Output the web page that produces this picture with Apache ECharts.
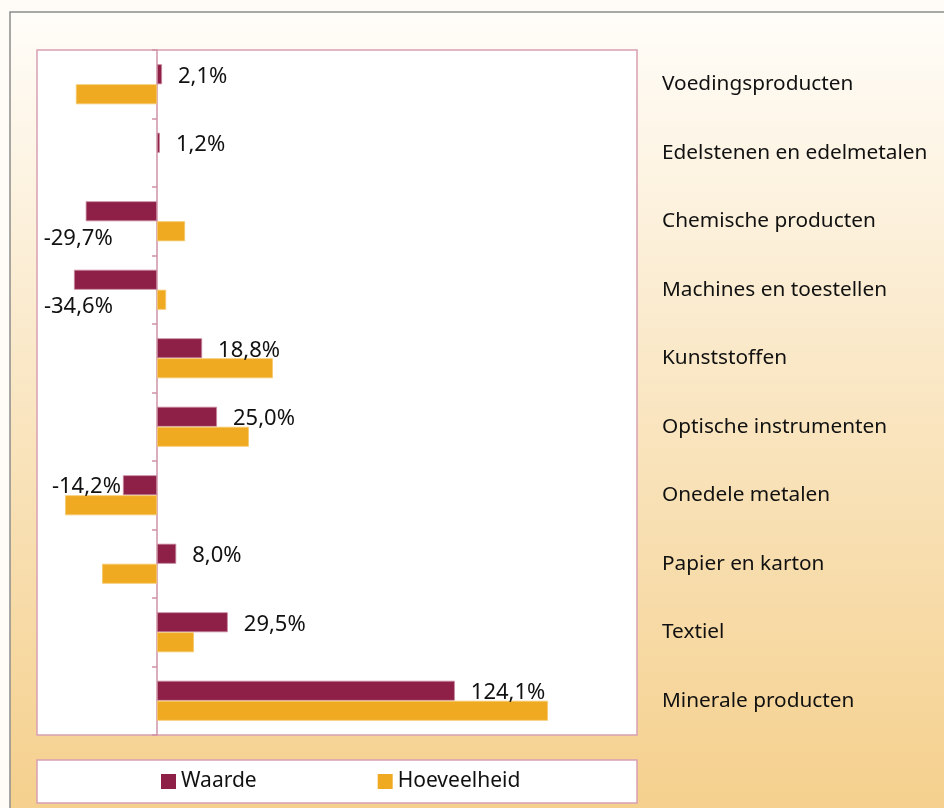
<!DOCTYPE html>
<html>
<head>
<meta charset="utf-8">
<script src="https://cdn.jsdelivr.net/npm/echarts@6/dist/echarts.min.js"></script>
<style>
html,body{margin:0;padding:0;background:#fffcf8;}
#c{width:944px;height:808px;}
</style>
</head>
<body>
<div id="c"></div>
<script>
const categories = ['Voedingsproducten','Edelstenen en edelmetalen','Chemische producten','Machines en toestellen','Kunststoffen','Optische instrumenten','Onedele metalen','Papier en karton','Textiel','Minerale producten'];
const waarde = [2.1, 1.2, -29.7, -34.6, 18.8, 25.0, -14.2, 8.0, 29.5, 124.1];
const hoeveelheid = [-33.8, null, 11.7, 3.8, 48.3, 38.3, -38.3, -22.9, 15.4, 162.9];
const seriesNames = ['Waarde', 'Hoeveelheid'];

const FONT = '"Noto Sans", sans-serif';
const fmt = v => v.toFixed(1).replace('.', ',') + '%';

const labelOffsets = { 2: [29, 27], 3: [41, 27] };
const waardeData = waarde.map((v, i) => {
  const item = { value: v };
  if (v < 0) {
    item.label = { position: 'left', distance: 2, offset: labelOffsets[i] || [0, 1] };
  }
  return item;
});

const chart = echarts.init(document.getElementById('c'), null, { renderer: 'canvas' });
chart.setOption({
  animation: false,
  graphic: [
    { type: 'rect', z: -10, silent: true,
      shape: { x: 10, y: 12, width: 940, height: 800 },
      style: {
        fill: new echarts.graphic.LinearGradient(0, 0, 0, 1, [
          { offset: 0, color: '#fffdf9' },
          { offset: 0.5, color: '#f9e5c0' },
          { offset: 1, color: '#f5d08d' }
        ]),
        stroke: '#8c8c8c', lineWidth: 1.5
      }
    },
    { type: 'rect', z: -5, silent: true,
      shape: { x: 37, y: 760, width: 600, height: 43 },
      style: { fill: '#ffffff', stroke: '#d8a0b2', lineWidth: 1.5 }
    }
  ],
  grid: { left: 37, top: 50, width: 600, height: 685, show: true, backgroundColor: '#ffffff', borderColor: '#d8a0b2', borderWidth: 1.5 },
  xAxis: { type: 'value', min: -50, max: 200, show: false },
  yAxis: [
    { type: 'category', data: categories, inverse: true,
      axisLine: { show: true, onZero: true, lineStyle: { color: '#cf93a7', width: 1.5 } },
      axisTick: { show: true, length: 5, lineStyle: { color: '#cf93a7', width: 1.5 } },
      axisLabel: { show: false }, splitLine: { show: false } },
    { type: 'category', data: categories, inverse: true, position: 'right',
      axisLine: { show: false, onZero: false }, axisTick: { show: false }, splitLine: { show: false },
      axisLabel: { show: true, margin: 25, color: '#111', fontFamily: FONT, fontSize: 20.8, align: 'left' } }
  ],
  legend: {
    data: seriesNames, left: 161, top: 771, padding: 0, itemGap: 121,
    itemWidth: 15, itemHeight: 15, icon: 'rect',
    itemStyle: { borderWidth: 0 },
    textStyle: { fontFamily: FONT, fontSize: 21, color: '#111' }
  },
  series: [
    { name: seriesNames[0], type: 'bar', yAxisIndex: 0, data: waardeData,
      barWidth: 20, barGap: '0%',
      itemStyle: { color: '#8e1f47', borderColor: '#c88aa0', borderWidth: 0.8 },
      label: { show: true, position: 'right', distance: 16, offset: [0, 2], color: '#111', fontFamily: FONT, fontSize: 22,
        formatter: p => fmt(p.value) } },
    { name: seriesNames[1], type: 'bar', yAxisIndex: 0, data: hoeveelheid,
      barWidth: 20, barGap: '0%',
      itemStyle: { color: '#efaa22', borderColor: '#f5c96e', borderWidth: 0.8 } }
  ]
});
</script>
</body>
</html>
